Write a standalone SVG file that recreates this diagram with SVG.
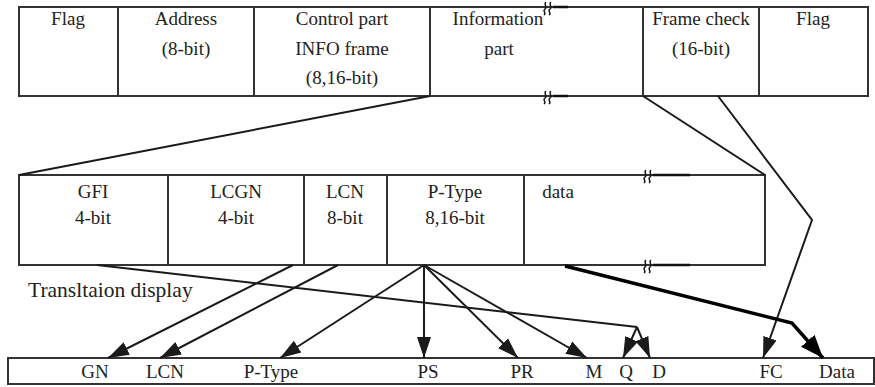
<svg xmlns="http://www.w3.org/2000/svg" width="875" height="387" viewBox="0 0 875 387">
<style>
.box{fill:#fff;stroke:#333;stroke-width:2}
.div{stroke:#333;stroke-width:2}
.t{font-family:"Liberation Serif","DejaVu Serif","Times New Roman",serif;font-size:19px;fill:#222;text-anchor:middle}
.l{fill:none;stroke:#1a1a1a;stroke-width:2}
.a{fill:none;stroke:#1a1a1a;stroke-width:2;marker-end:url(#ah)}
.th{fill:none;stroke:#000;stroke-width:3.5}
.sq{fill:none;stroke:#1a1a1a;stroke-width:1.5}
</style>
<defs>
<marker id="ah" markerUnits="userSpaceOnUse" markerWidth="22" markerHeight="16" viewBox="0 0 22 16" refX="21" refY="8" orient="auto">
<path d="M0,1 L21,8 L0,15 Z" fill="#1a1a1a"/>
</marker>
<marker id="ahb" markerUnits="userSpaceOnUse" markerWidth="24" markerHeight="20" viewBox="0 0 24 20" refX="23" refY="10" orient="auto">
<path d="M0,1 L23,10 L0,19 Z" fill="#000"/>
</marker>
<g id="squig" class="sq">
<path d="M0,-6 C-3,-4 2,-1 -1,1 C-4,3 1,5 -2,7"/>
<path d="M5,-6 C2,-4 7,-1 4,1 C1,3 6,5 3,7"/>
</g>
</defs>

<g id="frame">
<rect class="box" x="19" y="7" width="849" height="89"/>
<line class="div" x1="118" y1="7" x2="118" y2="96"/>
<line class="div" x1="254" y1="7" x2="254" y2="96"/>
<line class="div" x1="430" y1="7" x2="430" y2="96"/>
<line class="div" x1="643" y1="7" x2="643" y2="96"/>
<line class="div" x1="759" y1="7" x2="759" y2="96"/>
<line x1="553" y1="7" x2="568" y2="7" stroke="#111" stroke-width="2.5"/>
<line x1="553" y1="96" x2="568" y2="96" stroke="#111" stroke-width="2.5"/>
<use href="#squig" x="546" y="8"/>
<use href="#squig" x="546" y="97"/>
</g>
<g id="flag1"><text class="t" x="68" y="25">Flag</text></g>
<g id="address"><text class="t" x="186" y="25">Address</text><text class="t" x="186" y="55">(8-bit)</text></g>
<g id="control"><text class="t" x="342" y="25">Control part</text><text class="t" x="342" y="55">INFO frame</text><text class="t" x="342" y="84">(8,16-bit)</text></g>
<g id="information"><text class="t" x="498" y="25">Information</text><text class="t" x="499" y="55">part</text></g>
<g id="framecheck"><text class="t" x="701" y="25">Frame check</text><text class="t" x="701" y="55">(16-bit)</text></g>
<g id="flag2"><text class="t" x="813" y="25">Flag</text></g>

<g id="packet">
<rect class="box" x="19" y="175" width="746" height="90"/>
<line class="div" x1="168" y1="175" x2="168" y2="265"/>
<line class="div" x1="304" y1="175" x2="304" y2="265"/>
<line class="div" x1="387" y1="175" x2="387" y2="265"/>
<line class="div" x1="524" y1="175" x2="524" y2="265"/>
<line x1="653" y1="175" x2="690" y2="175" stroke="#111" stroke-width="2.5"/>
<line x1="653" y1="265" x2="690" y2="265" stroke="#111" stroke-width="2.5"/>
<use href="#squig" x="646" y="176"/>
<use href="#squig" x="646" y="266"/>
</g>
<g id="gfi"><text class="t" x="93" y="198">GFI</text><text class="t" x="93" y="224">4-bit</text></g>
<g id="lcgn"><text class="t" x="236" y="198">LCGN</text><text class="t" x="236" y="224">4-bit</text></g>
<g id="lcn"><text class="t" x="345" y="198">LCN</text><text class="t" x="345" y="224">8-bit</text></g>
<g id="ptype"><text class="t" x="455" y="198">P-Type</text><text class="t" x="455" y="224">8,16-bit</text></g>
<g id="data"><text class="t" x="558" y="198">data</text></g>

<g id="label"><text x="28" y="297" font-family="Liberation Serif, DejaVu Serif, serif" font-size="21.5" fill="#222">Transltaion display</text></g>

<g id="display">
<rect class="box" x="8" y="358" width="866" height="26"/>
<text class="t" x="95" y="378">GN</text>
<text class="t" x="165" y="378">LCN</text>
<text class="t" x="271" y="378">P-Type</text>
<text class="t" x="428" y="378">PS</text>
<text class="t" x="522" y="378">PR</text>
<text class="t" x="594" y="378">M</text>
<text class="t" x="626" y="378">Q</text>
<text class="t" x="659" y="378">D</text>
<text class="t" x="771" y="378">FC</text>
<text class="t" x="837" y="378">Data</text>
</g>

<g id="connectors">
<line class="l" x1="430" y1="96" x2="19" y2="175"/>
<line class="l" x1="643" y1="96" x2="765" y2="175"/>
<polyline class="a" points="718,96 812,220 763,358"/>
<line class="a" x1="293" y1="265" x2="108" y2="358"/>
<line class="a" x1="338" y1="265" x2="160" y2="358"/>
<line class="a" x1="424" y1="265" x2="280" y2="358"/>
<line class="a" x1="424" y1="265" x2="424" y2="358"/>
<line class="a" x1="424" y1="265" x2="518" y2="358"/>
<line class="a" x1="424" y1="265" x2="587" y2="358"/>
<polyline class="l" points="97,265 637,327"/>
<line class="a" x1="637" y1="327" x2="623" y2="358"/>
<line class="a" x1="637" y1="327" x2="650" y2="358"/>
<polyline class="th" points="565,266 792,323 823,358" marker-end="url(#ahb)"/>
</g>
</svg>
